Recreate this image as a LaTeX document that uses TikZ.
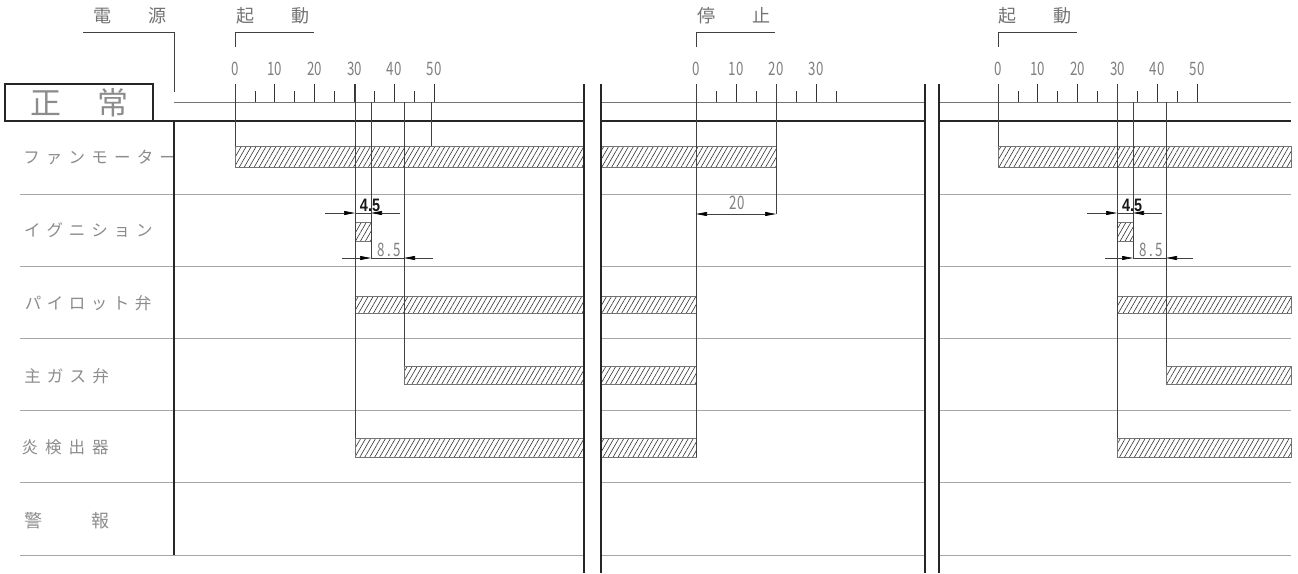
\documentclass[tikz,border=0pt]{standalone}
\usepackage{fontspec}
\setmainfont{Noto Sans CJK JP}
\newfontfamily\jp{Noto Sans CJK JP}
\newfontfamily\lat{Liberation Sans}
\usetikzlibrary{patterns.meta,arrows.meta}
\newlength\chpitch
\def\spacedi#1{\ifx#1\relax\else\makebox[\chpitch][c]{#1}\expandafter\spacedi\fi}
\newcommand\spaced[2]{\setlength\chpitch{#1}\spacedi#2\relax}
\newcommand\nar[1]{\scalebox{0.72}[1]{#1}}
\begin{document}
\begin{tikzpicture}[x=1pt,y=-1pt,
  thinrule/.style={line width=0.7pt,black!55},
  rowline/.style={line width=0.9pt,black!35},
  ext/.style={line width=0.6pt,black!75},
  tick/.style={line width=0.7pt,black!80},
  thickrule/.style={line width=1.5pt,black!85},
  sep/.style={line width=1.9pt,black!85},
  bar/.style={draw=black!55,line width=0.5pt,pattern={Lines[angle=60,distance=4.3pt,line width=0.6pt]},pattern color=black!80},
  lbl/.style={font=\jp\fontsize{16.5}{16.5}\selectfont,text=black!45,inner sep=0pt,anchor=west},
  toplbl/.style={font=\jp\fontsize{18}{18}\selectfont,text=black!55,inner sep=0pt},
  num/.style={font=\jp\fontsize{18.5}{18.5}\selectfont,text=black!50,inner sep=0pt},
  dimbold/.style={font=\lat\bfseries\fontsize{18}{18}\selectfont,text=black!90,inner sep=0pt,anchor=south},
  tip/.style={-{Triangle[length=11pt,width=4pt,color=black]}},
  dimar/.style={ext,tip},
]
\useasboundingbox (0,0) rectangle (1298,573);
\fill[white] (0,0) rectangle (1298,573);

% ---------- top labels and brackets ----------
\node[toplbl] (den) at (102,15.5) {電};
\node[toplbl] (gen) at (157,15.5) {源};
\node[toplbl] (ki1) at (245,15.5) {起};
\node[toplbl] (do1) at (300,15.5) {動};
\node[toplbl] (tei) at (706,15.5) {停};
\node[toplbl] (shi) at (761,15.5) {止};
\node[toplbl] (ki2) at (1007,15.5) {起};
\node[toplbl] (do2) at (1062,15.5) {動};

\draw[ext] (83,32) -- (174,32) -- (174,92);
\draw[ext] (235,47) -- (235,32) -- (314,32);
\draw[ext] (696,47) -- (696,32) -- (775,32);
\draw[ext] (998,47) -- (998,32) -- (1077,32);

% ---------- scales ----------
\foreach \v in {0,10,...,50} {
  \node[num] (sa\v) at ({235+3.98*\v},69) {\nar{\v}};
  \draw[tick] ({235+3.98*\v},84) -- ({235+3.98*\v},102);
  \node[num] (sc\v) at ({998+3.98*\v},69) {\nar{\v}};
  \draw[tick] ({998+3.98*\v},84) -- ({998+3.98*\v},102);
}
\foreach \v in {5,15,...,45} {
  \draw[tick] ({235+3.98*\v},91) -- ({235+3.98*\v},102);
  \draw[tick] ({998+3.98*\v},91) -- ({998+3.98*\v},102);
}
\foreach \v in {0,10,...,30} {
  \node[num] (sb\v) at ({696+4*\v},69) {\nar{\v}};
  \draw[tick] ({696+4*\v},84) -- ({696+4*\v},102);
}
\foreach \v in {5,15,...,35} {
  \draw[tick] ({696+4*\v},91) -- ({696+4*\v},102);
}

% ---------- title box ----------
\draw[thickrule] (5,84) rectangle (153,121);
\node[font=\jp\fontsize{31}{31}\selectfont,text=black!45,inner sep=0pt] (sei) at (46,103) {正};
\node[font=\jp\fontsize{31}{31}\selectfont,text=black!45,inner sep=0pt] (jo) at (113,103) {常};

% ---------- horizontal rules ----------
\draw[thinrule] (174,102) -- (584,102);
\draw[thinrule] (601,102) -- (925,102);
\draw[thinrule] (939,102) -- (1291,102);
\draw[thickrule] (153,121) -- (584,121);
\draw[thickrule] (601,121) -- (925,121);
\draw[thickrule] (939,121) -- (1291,121);
\foreach \y in {194,266,338,410,482,555} {
  \draw[rowline] (20,\y) -- (584,\y);
  \draw[rowline] (601,\y) -- (925,\y);
  \draw[rowline] (939,\y) -- (1291,\y);
}

% ---------- row labels ----------
\node[lbl] (fan) at (20,157) {\spaced{22.7pt}{ファンモーター}};
\node[lbl] (ign) at (21,230) {\spaced{22.4pt}{イグニション}};
\node[lbl] (pil) at (22,303) {\spaced{22pt}{パイロット弁}};
\node[lbl] (mgv) at (21,376) {\spaced{22.7pt}{主ガス弁}};
\node[lbl] (fld) at (18,447) {\spaced{23.5pt}{炎検出器}};
\node[lbl,anchor=center,font=\jp\fontsize{18}{18}\selectfont] (kei) at (33.5,521) {警};
\node[lbl,anchor=center,font=\jp\fontsize{18}{18}\selectfont] (hou) at (100,521) {報};

% ---------- bars ----------
% section 1
\draw[bar] (235,146) rectangle (584,167);
\draw[bar] (355,222) rectangle (371,241);
\draw[bar] (355,296) rectangle (584,313);
\draw[bar] (404,366) rectangle (584,384);
\draw[bar] (355,438) rectangle (584,457);
% section 2
\draw[bar] (601,146) rectangle (776,167);
\draw[bar] (601,296) rectangle (696,313);
\draw[bar] (601,366) rectangle (696,384);
\draw[bar] (601,438) rectangle (696,457);
% section 3
\draw[bar] (998,146) rectangle (1291,167);
\draw[bar] (1117,222) rectangle (1133,241);
\draw[bar] (1117,296) rectangle (1291,313);
\draw[bar] (1166,366) rectangle (1291,384);
\draw[bar] (1117,438) rectangle (1291,457);

% ---------- extension lines ----------
\draw[ext] (235,84) -- (235,146);
\draw[ext] (355,84) -- (355,438);
\draw[ext] (371,102) -- (371,258);
\draw[ext] (404,102) -- (404,366);
\draw[ext] (431,102) -- (431,146);
\draw[ext] (696,84) -- (696,457);
\draw[ext] (776,84) -- (776,214);
\draw[ext] (998,84) -- (998,146);
\draw[ext] (1117,84) -- (1117,438);
\draw[ext] (1133,102) -- (1133,258);
\draw[ext] (1166,102) -- (1166,366);

% ---------- dimensions ----------
% section 1
\coordinate (a1) at (325,213); \coordinate (a2) at (355,213);
\coordinate (a3) at (371,213); \coordinate (a4) at (400,213);
\draw[dimar] (a1) -- (a2); \draw[ext] (a2) -- (a3); \draw[dimar] (a4) -- (a3);
\node[dimbold] (d45a) at (370,212) {\scalebox{0.8}[1]{4.5}};
\coordinate (b1) at (342,258); \coordinate (b2) at (371,258);
\coordinate (b3) at (404,258); \coordinate (b4) at (433,258);
\draw[dimar] (b1) -- (b2); \draw[ext] (b2) -- (b3); \draw[dimar] (b4) -- (b3);
\node[num] (d85a) at (389,250) {\nar{\spaced{11pt}{8.5}}};
% section 2
\coordinate (c1) at (696,214); \coordinate (c2) at (776,214);
\draw[ext,{Triangle[length=11pt,width=4pt,color=black]}-{Triangle[length=11pt,width=4pt,color=black]}] (c1) -- (c2);
\node[num] (d20) at (737,203) {\nar{20}};
% section 3
\coordinate (e1) at (1087,213); \coordinate (e2) at (1117,213);
\coordinate (e3) at (1133,213); \coordinate (e4) at (1162,213);
\draw[dimar] (e1) -- (e2); \draw[ext] (e2) -- (e3); \draw[dimar] (e4) -- (e3);
\node[dimbold] (d45c) at (1132,212) {\scalebox{0.8}[1]{4.5}};
\coordinate (f1) at (1105,258); \coordinate (f2) at (1133,258);
\coordinate (f3) at (1166,258); \coordinate (f4) at (1193,258);
\draw[dimar] (f1) -- (f2); \draw[ext] (f2) -- (f3); \draw[dimar] (f4) -- (f3);
\node[num] (d85c) at (1151,250) {\nar{\spaced{11pt}{8.5}}};

% ---------- separators ----------
\draw[line width=1.5pt,black!85] (174,121) -- (174,555);
\draw[sep] (584,84) -- (584,573);
\draw[sep] (601,84) -- (601,573);
\draw[sep] (925,84) -- (925,573);
\draw[sep] (939,84) -- (939,573);
\end{tikzpicture}
\end{document}
